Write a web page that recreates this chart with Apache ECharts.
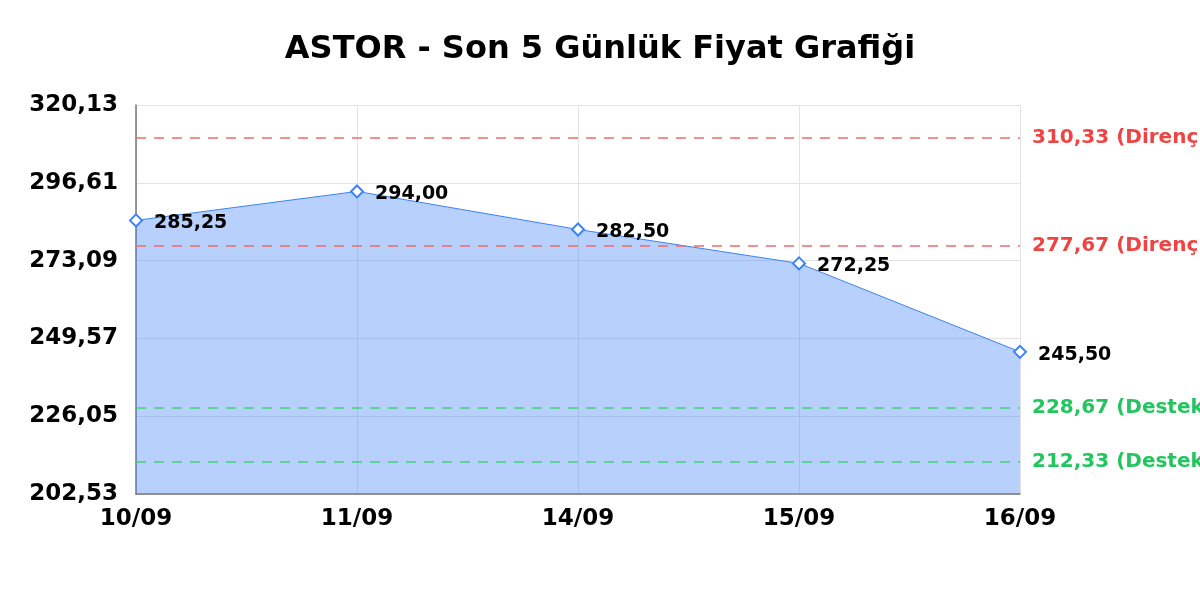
<!DOCTYPE html>
<html>
<head>
<meta charset="utf-8">
<script src="https://cdn.jsdelivr.net/npm/echarts@6/dist/echarts.min.js"></script>
<style>
  html, body { margin: 0; padding: 0; background: #fff; }
  #chart { width: 1200px; height: 600px; }
</style>
</head>
<body>
<div id="chart"></div>
<script>
const TITLE = 'ASTOR - Son 5 Günlük Fiyat Grafiği';
const dates = ['10/09', '11/09', '14/09', '15/09', '16/09'];
const prices = [285.25, 294.00, 282.50, 272.25, 245.50];
const yTicks = [202.53, 226.05, 249.57, 273.09, 296.61, 320.13];
const resistance = [310.33, 277.67];
const support = [228.67, 212.33];

const RED = '#ef4444';
const GREEN = '#22c55e';
const BLUE = '#3b82f6';
const FONT = 'DejaVu Sans';

const fmt = v => v.toFixed(2).replace('.', ',');

function levelLine(value, name, color, lineColor) {
    return {
        yAxis: value,
        lineStyle: { color: lineColor, type: [10, 8], width: 1.5 },
        label: {
            show: true,
            position: 'end',
            distance: 12,
            color: color,
            fontFamily: FONT,
            fontSize: 20,
            fontWeight: 'bold',
            formatter: `${fmt(value)} (${name})`
        }
    };
}

const chart = echarts.init(document.getElementById('chart'), null, { renderer: 'canvas' });

chart.setOption({
    animation: false,
    backgroundColor: '#fff',
    textStyle: { fontFamily: FONT },
    title: {
        text: TITLE,
        left: 'center',
        top: 29,
        textStyle: { fontFamily: FONT, fontSize: 32, fontWeight: 'bold', color: '#000' }
    },
    grid: { left: 136, right: 180, top: 105, bottom: 106, containLabel: false },
    xAxis: {
        type: 'category',
        boundaryGap: false,
        data: dates,
        axisLine: { show: true, lineStyle: { color: '#777', width: 1.5 } },
        axisTick: { show: false },
        axisLabel: { color: '#000', fontSize: 23, fontWeight: 'bold', margin: 14, fontFamily: FONT },
        splitLine: { show: true, lineStyle: { color: '#e3e3e3', width: 1 } }
    },
    yAxis: {
        type: 'value',
        min: yTicks[0],
        max: yTicks[yTicks.length - 1],
        axisLine: { show: true, lineStyle: { color: '#777', width: 1.5 } },
        axisTick: { show: false, customValues: yTicks },
        axisLabel: {
            customValues: yTicks,
            color: '#000',
            fontSize: 23,
            fontWeight: 'bold',
            margin: 18,
            fontFamily: FONT,
            formatter: v => fmt(v)
        },
        splitLine: { show: true, lineStyle: { color: '#e3e3e3', width: 1 } }
    },
    series: [{
        type: 'line',
        data: prices,
        symbol: 'diamond',
        symbolSize: 12,
        lineStyle: { color: BLUE, width: 1 },
        itemStyle: { color: '#fff', borderColor: BLUE, borderWidth: 2 },
        areaStyle: { color: BLUE, opacity: 0.37 },
        label: {
            show: true,
            position: 'right',
            distance: 11,
            offset: [0, 3],
            color: '#000',
            fontFamily: FONT,
            fontSize: 19,
            fontWeight: 'bold',
            formatter: p => fmt(p.value)
        },
        markLine: {
            silent: true,
            symbol: 'none',
            z: 5,
            data: [
                levelLine(resistance[0], 'Direnç', RED, '#f06b6b'),
                levelLine(resistance[1], 'Direnç', RED, '#f06b6b'),
                levelLine(support[0], 'Destek', GREEN, '#46cf78'),
                levelLine(support[1], 'Destek', GREEN, '#46cf78')
            ]
        }
    }]
});
</script>
</body>
</html>
